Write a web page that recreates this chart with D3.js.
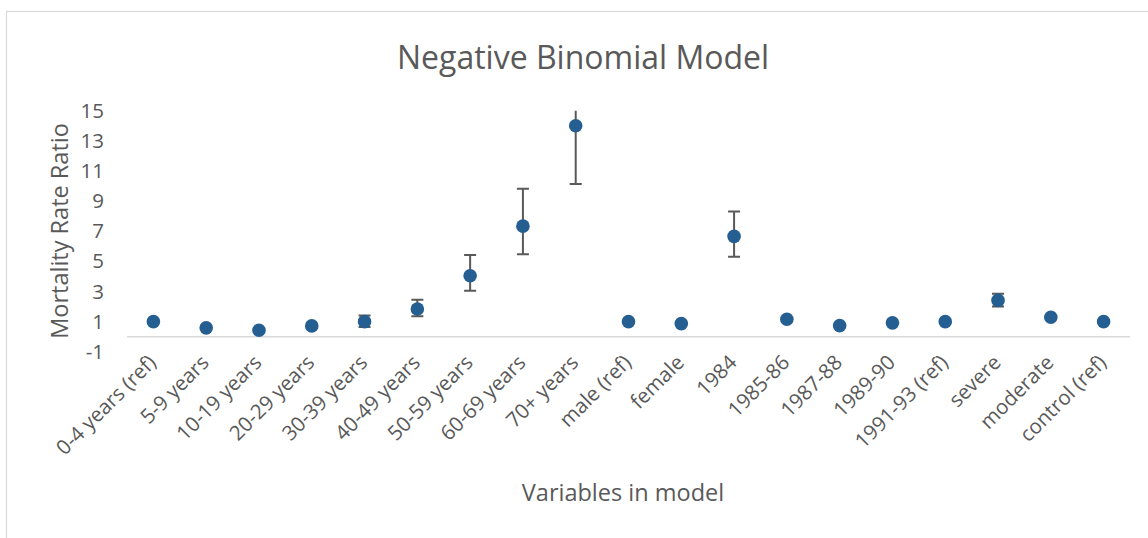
<!DOCTYPE html>
<html>
<head>
<meta charset="utf-8">
<script src="https://cdn.jsdelivr.net/npm/d3@7"></script>
<style>
  body { margin: 0; background: #fff; }
  text { font-family: "Open Sans", sans-serif; fill: #595959; }
</style>
</head>
<body>
<div id="chart"></div>
<script>
// Negative binomial model - mortality rate ratios with CI

var categories = ["0-4 years (ref)", "5-9 years", "10-19 years", "20-29 years", "30-39 years",
  "40-49 years", "50-59 years", "60-69 years", "70+ years", "male (ref)", "female", "1984",
  "1985-86", "1987-88", "1989-90", "1991-93 (ref)", "severe", "moderate", "control (ref)"];

var ratio = [1.0, 0.59, 0.43, 0.72, 1.0, 1.84, 4.05, 7.34, 14.0, 1.0, 0.87, 6.66,
  1.16, 0.74, 0.92, 1.0, 2.41, 1.29, 1.0];

var lower = [null, null, null, null, 0.65, 1.36, 3.05, 5.48, 10.13, null, null, 5.30,
  null, null, null, null, 2.01, null, null];

var upper = [null, null, null, null, 1.41, 2.45, 5.43, 9.82, 19.3, null, null, 8.31,
  null, null, null, null, 2.85, null, null];

var yTicks = [-1, 1, 3, 5, 7, 9, 11, 13, 15];

var W = 1148, H = 538;
var plot = {left: 127, right: 1130, top: 110.7, bottom: 351.8};

var svg = d3.select("#chart")
  .append("svg")
    .attr("width", W)
    .attr("height", H);

// outer chart frame (cut off at right/bottom)
svg.append("rect")
  .attr("x", 6.5)
  .attr("y", 11.5)
  .attr("width", 1300)
  .attr("height", 700)
  .attr("fill", "none")
  .attr("stroke", "#d9d9d9")
  .attr("stroke-width", 1.2);

var x = d3.scaleBand()
  .domain(categories)
  .range([plot.left, plot.right]);

var y = d3.scaleLinear()
  .domain([-1, 15])
  .range([plot.bottom, plot.top]);

svg.append("defs").append("clipPath")
  .attr("id", "plotClip")
  .append("rect")
    .attr("x", plot.left)
    .attr("y", plot.top)
    .attr("width", plot.right - plot.left)
    .attr("height", plot.bottom - plot.top);

// title
svg.append("text")
  .text("Negative Binomial Model")
  .attr("x", 583)
  .attr("y", 69)
  .attr("text-anchor", "middle")
  .style("font-size", "32px");

// y axis (labels only), plain hyphen for negatives like the original
var yAxis = svg.append("g")
  .attr("transform", "translate(" + (plot.left - 23) + ",0)")
  .call(d3.axisLeft(y).tickValues(yTicks).tickSize(0).tickPadding(0)
    .tickFormat(function(d) { return String(d); }));
yAxis.select(".domain").remove();
yAxis.selectAll("text")
  .style("font-size", "20.5px")
  .style("font-family", "'Open Sans', sans-serif")
  .attr("fill", "#595959");

// horizontal axis line at zero
svg.append("line")
  .attr("x1", plot.left)
  .attr("x2", plot.right)
  .attr("y1", y(0))
  .attr("y2", y(0))
  .attr("stroke", "#d9d9d9")
  .attr("stroke-width", 1.6);

// category labels, rotated
svg.append("g")
  .selectAll("text")
  .data(categories)
  .enter()
  .append("text")
    .text(function(d) { return d; })
    .attr("text-anchor", "end")
    .attr("transform", function(d) {
      return "translate(" + (x(d) + x.bandwidth() / 2 + 4) + "," + (plot.bottom + 12) + ") rotate(-45)";
    })
    .style("font-size", "20.5px");

// error bars
var rows = categories.map(function(c, i) {
  return {cat: c, v: ratio[i], lo: lower[i], hi: upper[i]};
});
var withErr = rows.filter(function(d) { return d.lo !== null; });

var bars = svg.append("g")
  .attr("clip-path", "url(#plotClip)")
  .selectAll("g")
  .data(withErr)
  .enter()
  .append("g")
    .attr("stroke", "#595959")
    .attr("stroke-width", 2);

bars.append("line")
  .attr("x1", function(d) { return x(d.cat) + x.bandwidth() / 2; })
  .attr("x2", function(d) { return x(d.cat) + x.bandwidth() / 2; })
  .attr("y1", function(d) { return y(d.lo); })
  .attr("y2", function(d) { return y(d.hi); });

bars.append("line")
  .attr("x1", function(d) { return x(d.cat) + x.bandwidth() / 2 - 6; })
  .attr("x2", function(d) { return x(d.cat) + x.bandwidth() / 2 + 6; })
  .attr("y1", function(d) { return y(d.lo); })
  .attr("y2", function(d) { return y(d.lo); });

bars.append("line")
  .attr("x1", function(d) { return x(d.cat) + x.bandwidth() / 2 - 6; })
  .attr("x2", function(d) { return x(d.cat) + x.bandwidth() / 2 + 6; })
  .attr("y1", function(d) { return y(d.hi); })
  .attr("y2", function(d) { return y(d.hi); });

// points
svg.append("g")
  .selectAll("circle")
  .data(rows)
  .enter()
  .append("circle")
    .attr("cx", function(d) { return x(d.cat) + x.bandwidth() / 2; })
    .attr("cy", function(d) { return y(d.v); })
    .attr("r", 6.8)
    .attr("fill", "#255e91");

// axis titles
svg.append("text")
  .text("Variables in model")
  .attr("x", 623)
  .attr("y", 501)
  .attr("text-anchor", "middle")
  .style("font-size", "23.5px");

svg.append("g")
  .attr("transform", "translate(68,231)")
  .append("text")
    .text("Mortality Rate Ratio")
    .attr("text-anchor", "middle")
    .attr("transform", "rotate(-90)")
    .style("font-size", "23.5px");
</script>
</body>
</html>
